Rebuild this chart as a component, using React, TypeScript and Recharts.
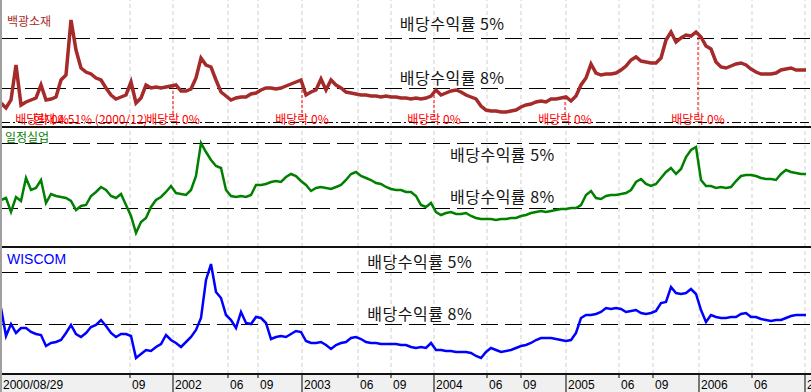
import {
    Line,
    LineChart,
    ReferenceDot,
    ReferenceLine,
    XAxis,
    YAxis,
} from "recharts";

// Three stocks on one time axis, one value per ~2-week period from 2000/08/29.
// Values are in hundreds of won, each panel on its own scale.

const baekkwang = [
    24, 19, 27, 62, 22, 25, 27, 29, 42, 27,
    28, 30, 47, 52, 107, 77, 59, 55, 53, 49,
    47, 39, 32, 28, 30, 32, 45, 24, 29, 42,
    39, 40, 39, 40, 41, 42, 36, 36, 38, 49,
    69, 62, 60, 47, 35, 31, 27, 29, 30, 30,
    33, 34, 37, 39, 39, 38, 39, 41, 43, 45,
    47, 32, 35, 37, 48, 37, 47, 42, 39, 35,
    34, 33, 32, 32, 31, 31, 30, 31, 30, 30,
    29, 29, 28, 29, 28, 29, 31, 37, 32, 34,
    36, 37, 35, 32, 30, 28, 21, 17, 16, 16,
    15, 15, 16, 17, 20, 22, 23, 25, 26, 25,
    28, 28, 29, 30, 26, 31, 42, 49, 63, 54,
    52, 53, 53, 54, 57, 61, 67, 70, 66, 65,
    64, 64, 69, 87, 95, 85, 89, 92, 91, 95,
    90, 81, 78, 65, 60, 59, 61, 63, 64, 62,
    58, 55, 53, 53, 53, 54, 57, 58, 59, 57,
    57, 57,
];

const iljeong = [
    47, 49, 35, 50, 46, 69, 57, 59, 67, 44,
    53, 51, 50, 49, 46, 37, 41, 42, 51, 55,
    60, 57, 51, 49, 53, 42, 31, 14, 25, 29,
    40, 47, 50, 55, 61, 54, 53, 52, 57, 71,
    104, 95, 87, 81, 79, 57, 51, 50, 51, 50,
    52, 62, 62, 63, 65, 66, 65, 70, 73, 71,
    66, 62, 56, 59, 60, 59, 58, 60, 62, 67,
    73, 75, 71, 69, 67, 64, 63, 60, 58, 57,
    57, 55, 55, 51, 42, 40, 44, 35, 32, 34,
    35, 33, 33, 34, 31, 29, 28, 28, 28, 27,
    28, 28, 29, 29, 31, 32, 34, 35, 36, 35,
    36, 37, 38, 38, 39, 39, 42, 52, 56, 49,
    48, 51, 52, 52, 53, 54, 57, 65, 68, 63,
    61, 63, 69, 75, 79, 73, 78, 90, 97, 100,
    67, 61, 61, 59, 60, 59, 60, 66, 71, 72,
    72, 71, 69, 68, 68, 67, 73, 77, 75, 74,
    73, 73,
];

const wiscom = [
    66, 38, 50, 41, 46, 46, 42, 40, 39, 28,
    31, 32, 34, 41, 49, 40, 37, 41, 47, 49,
    54, 48, 41, 37, 40, 40, 38, 16, 20, 24,
    23, 27, 30, 39, 34, 31, 27, 32, 37, 44,
    56, 94, 110, 82, 76, 59, 54, 46, 62, 51,
    50, 57, 56, 51, 35, 37, 38, 37, 40, 43,
    42, 33, 31, 31, 32, 29, 25, 29, 31, 32,
    36, 37, 35, 32, 31, 31, 30, 30, 30, 30,
    29, 29, 27, 26, 27, 26, 31, 24, 24, 23,
    23, 22, 22, 22, 21, 18, 16, 22, 26, 24,
    22, 23, 24, 26, 28, 29, 31, 34, 36, 36,
    36, 35, 34, 33, 34, 41, 56, 59, 59, 60,
    62, 66, 65, 66, 65, 62, 63, 64, 61, 60,
    61, 63, 71, 72, 87, 81, 80, 81, 85, 80,
    64, 52, 59, 57, 56, 56, 57, 57, 60, 61,
    57, 57, 55, 54, 53, 54, 54, 56, 58, 59,
    59, 59,
];

// price levels where the dividend yield is 5% / 8%
const levelTexts = ["배당수익률 5%", "배당수익률 8%"];
const baekkwangLevels = [88.5, 38.5];
const iljeongLevels = [103.5, 38.5];
const wiscomLevels = [101.5, 49.5];
const baekkwangFloor = 4.5;

// time axis
const tickPeriods = [0, 25.8, 34.4, 45.4, 51.4, 60.2, 71.4, 78.0, 86.6, 97.2, 104.0, 113.0, 123.6, 130.4, 139.6, 150.2, 160.8];
const tickLabels = ["2000/08/29", "09", "2002", "06", "09", "2003", "06", "09", "2004", "06", "09", "2005", "06", "09", "2006", "06", "2"];

// ex-dividend marks on 백광소재
const exDivPeriods = [8.2, 34.4, 60.2, 86.6, 112.8, 139.4];
const exDivText = "배당락 0%";
const yieldNote = "현재 4.51% (2000/12)";
const yieldNotePeriod = 6.4;

const FONT_KR = "'Noto Sans CJK KR', 'Noto Sans', sans-serif";
const FONT_AXIS = "'Liberation Sans', Arial, sans-serif";

function TimeTick(props: any) {
    const { x, y, payload } = props;
    const idx = tickPeriods.findIndex((p) => Math.abs(p - payload.value) < 0.01);
    const label = tickLabels[idx] ?? "";
    const isYear = idx > 0 && label.length !== 2;
    return (
        <g>
            {idx > 0 && (
                <line x1={x} x2={x} y1={y} y2={y + (isYear ? 18 : 4)} stroke="#000" strokeWidth={1} />
            )}
            <text x={x + 2} y={y + 15} fontFamily={FONT_AXIS} fontSize={12} fill="#000">
                {label}
            </text>
        </g>
    );
}

function levelLabel(text: string, at: number, dy: number) {
    return (props: any) => {
        const vb = props.viewBox ?? { x: 0, y: 0, width: 0 };
        return (
            <text
                x={vb.x + vb.width * at}
                y={vb.y + dy}
                textAnchor="middle"
                fontFamily={FONT_KR}
                fontSize={16}
                letterSpacing={0.5}
                fill="#151515"
            >
                {text}
            </text>
        );
    };
}

function smallLabel(text: string, anchor: "middle" | "start") {
    return (props: any) => {
        const vb = props.viewBox ?? { x: 0, y: 0 };
        return (
            <text x={vb.x} y={vb.y + 8} textAnchor={anchor} fontFamily={FONT_KR} fontSize={12} fill="#ff0000">
                {text}
            </text>
        );
    };
}

interface PanelProps {
    values: number[];
    color: string;
    strokeWidth: number;
    plotHeight: number;
    levels: number[];
    labelAt: number;
    labelDy: number[];
    showAxis?: boolean;
    extra?: React.ReactNode;
}

function Panel({ values, color, strokeWidth, plotHeight, levels, labelAt, labelDy, showAxis, extra }: PanelProps) {
    const data = values.map((v, i) => ({ period: i, v }));
    return (
        <LineChart
            width={811}
            height={plotHeight + (showAxis ? 18 : 0)}
            data={data}
            margin={{ top: 0, right: 0, bottom: 0, left: 1 }}
        >
            <XAxis
                dataKey="period"
                type="number"
                domain={[0, 162]}
                ticks={tickPeriods}
                interval={0}
                hide={!showAxis}
                height={18}
                axisLine={false}
                tickLine={false}
                tickSize={0}
                tickMargin={0}
                tick={<TimeTick />}
            />
            <YAxis type="number" domain={[0, plotHeight]} hide />
            {tickPeriods.slice(1).map((p) => (
                <ReferenceLine key={`g${p}`} x={p} stroke="#cfcfcf" strokeDasharray="4 3" />
            ))}
            {levels.map((lv, k) => (
                <ReferenceLine
                    key={`l${k}`}
                    y={lv}
                    stroke="#000"
                    strokeDasharray="17 7"
                    label={levelLabel(levelTexts[k], labelAt, labelDy[k])}
                />
            ))}
            {extra}
            <Line
                type="linear"
                dataKey="v"
                stroke={color}
                strokeWidth={strokeWidth}
                dot={false}
                isAnimationActive={false}
            />
        </LineChart>
    );
}

const titleStyle: React.CSSProperties = {
    position: "absolute",
    fontSize: 12,
    lineHeight: "12px",
    fontFamily: FONT_KR,
    whiteSpace: "nowrap",
};

export default function App() {
    const exDivMarks = [
        <ReferenceLine key="floor" y={baekkwangFloor} stroke="#000" strokeDasharray="9 3 2 3" />,
        ...exDivPeriods.slice(1).map((p) => (
            <ReferenceLine
                key={`s${p}`}
                segment={[
                    { x: p, y: baekkwang[Math.round(p)] },
                    { x: p, y: 11 },
                ]}
                stroke="#ff0000"
                strokeDasharray="3 2"
            />
        )),
        <ReferenceDot key="note" x={yieldNotePeriod} y={11} r={0} fill="none" stroke="none" label={smallLabel(yieldNote, "start")} />,
        ...exDivPeriods.map((p) => (
            <ReferenceDot key={`d${p}`} x={p} y={11} r={0} fill="none" stroke="none" label={smallLabel(exDivText, "middle")} />
        )),
    ];

    return (
        <div
            style={{
                position: "absolute",
                left: 0,
                top: 0,
                width: 811,
                height: 392,
                overflow: "hidden",
                background: "#fff",
            }}
        >
            <div style={{ position: "absolute", left: 0, top: 374, width: 811, height: 18, background: "#f0f0f0" }} />
            <div style={{ position: "absolute", left: 0, top: 0 }}>
                <Panel
                    values={baekkwang}
                    color="#a52a2a"
                    strokeWidth={3.5}
                    plotHeight={127}
                    levels={baekkwangLevels}
                    labelAt={0.557}
                    labelDy={[-8.5, -4.5]}
                    extra={exDivMarks}
                />
            </div>
            <div style={{ position: "absolute", left: 0, top: 127 }}>
                <Panel
                    values={iljeong}
                    color="#008000"
                    strokeWidth={2.5}
                    plotHeight={120}
                    levels={iljeongLevels}
                    labelAt={0.619}
                    labelDy={[17.5, -5.5]}
                />
            </div>
            <div style={{ position: "absolute", left: 0, top: 247 }}>
                <Panel
                    values={wiscom}
                    color="#0000ff"
                    strokeWidth={2.5}
                    plotHeight={127}
                    levels={wiscomLevels}
                    labelAt={0.517}
                    labelDy={[-4.5, -4.5]}
                    showAxis
                />
            </div>
            {/* panel borders */}
            <div style={{ position: "absolute", left: 0, top: 126, width: 811, height: 2, background: "#111" }} />
            <div style={{ position: "absolute", left: 0, top: 246, width: 811, height: 2, background: "#111" }} />
            <div style={{ position: "absolute", left: 0, top: 373, width: 811, height: 2, background: "#111" }} />
            <div style={{ position: "absolute", left: 0, top: 0, width: 2, height: 392, background: "#a0a0a0" }} />
            <div style={{ ...titleStyle, left: 7, top: 15, color: "#a52a2a" }}>백광소재</div>
            <div style={{ ...titleStyle, left: 5, top: 131, color: "#008000" }}>일정실업</div>
            <div
                style={{
                    ...titleStyle,
                    left: 7,
                    top: 252,
                    color: "#0000ff",
                    fontSize: 14,
                    lineHeight: "14px",
                    fontFamily: "'Liberation Sans Narrow', 'Liberation Sans', Arial, sans-serif",
                }}
            >
                WISCOM
            </div>
        </div>
    );
}
